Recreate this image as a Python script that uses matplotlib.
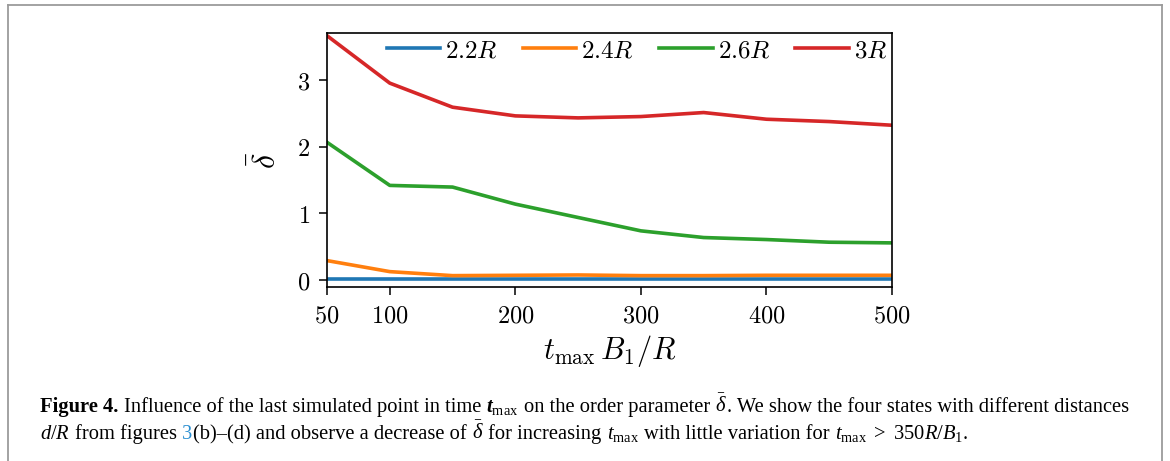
import matplotlib
matplotlib.use('Agg')
import matplotlib.pyplot as plt
from matplotlib.lines import Line2D
from matplotlib.ticker import FixedLocator, FuncFormatter

# ---------------- data ----------------
t_max = [50, 100, 150, 200, 250, 300, 350, 400, 450, 500]
delta_2_2R = [0.015, 0.015, 0.015, 0.015, 0.015, 0.015, 0.015, 0.015, 0.015, 0.015]
delta_2_4R = [0.295, 0.13, 0.07, 0.075, 0.08, 0.07, 0.07, 0.075, 0.075, 0.075]
delta_2_6R = [2.065, 1.42, 1.395, 1.14, 0.94, 0.74, 0.64, 0.61, 0.57, 0.56]
delta_3R = [3.66, 2.95, 2.59, 2.46, 2.43, 2.45, 2.51, 2.41, 2.375, 2.32]
series_labels = ['$2.2R$', '$2.4R$', '$2.6R$', '$3R$']
series_colors = ['#1f77b4', '#ff7f0e', '#2ca02c', '#d62728']
x_ticks = [50, 100, 200, 300, 400, 500]
y_ticks = [0, 1, 2, 3]

plt.rcParams['mathtext.fontset'] = 'cm'
plt.rcParams['mathtext.rm'] = 'Liberation Serif'
plt.rcParams['mathtext.it'] = 'Liberation Serif:italic'
plt.rcParams['mathtext.bf'] = 'Liberation Serif:bold:italic'
plt.rcParams['axes.unicode_minus'] = False

W, H = 1170, 461
fig = plt.figure(figsize=(W / 100, H / 100), dpi=100)
fig.patch.set_facecolor('white')

# axes placement in pixels
ax_l, ax_r, ax_t, ax_b = 327, 892, 33, 287
ax = fig.add_axes([ax_l / W, 1 - ax_b / H, (ax_r - ax_l) / W, (ax_b - ax_t) / H])

for y, lab, col in zip([delta_2_2R, delta_2_4R, delta_2_6R, delta_3R], series_labels, series_colors):
    ax.plot(t_max, y, color=col, lw=2.6, label=lab, solid_capstyle='projecting')

ax.set_xlim(50, 500)
ax.set_ylim(-0.1, 3.70)
ax.xaxis.set_major_locator(FixedLocator(x_ticks))
ax.yaxis.set_major_locator(FixedLocator(y_ticks))
fmt = FuncFormatter(lambda v, p: r'$%d$' % int(round(v)))
ax.xaxis.set_major_formatter(fmt)
ax.yaxis.set_major_formatter(fmt)
ax.tick_params(labelsize=17.5, length=5.5, width=1.1, direction='out', pad=6.5)
for s in ax.spines.values():
    s.set_linewidth(1.2)

ax.set_xlabel(r'$t_\mathrm{max}\,B_1/R$', fontsize=22, labelpad=4)
ax.set_ylabel(r'$\bar{\delta}$', fontsize=23, labelpad=10)

ax.legend(loc='upper right', ncol=4, frameon=False, fontsize=18,
          handlelength=2.15, handletextpad=0.2, columnspacing=0.98,
          borderaxespad=0.15, borderpad=0.05)

# ---------------- frame ----------------
gray = '#9b9b9b'
fig.add_artist(Line2D([8 / W, 8 / W], [0, 1 - 5 / H], color=gray, lw=1.3, transform=fig.transFigure))
fig.add_artist(Line2D([8 / W, 1162 / W], [1 - 5 / H, 1 - 5 / H], color=gray, lw=1.3, transform=fig.transFigure))
fig.add_artist(Line2D([1162 / W, 1162 / W], [0, 1 - 5 / H], color=gray, lw=1.3, transform=fig.transFigure))

# ---------------- caption ----------------
link_blue = '#2b8fd1'
line1 = [
    ("Figure 4.", dict(weight='bold')),
    (" Influence of the last simulated point in time ", {}),
    (r"$\mathbf{t}_{\mathrm{max}}$", {}),
    (" on the order parameter ", {}),
    (r"$\bar{\delta}$", {}),
    (". We show the four states with different distances", {}),
]
line2 = [
    (r"$d/R$", {}),
    (" from figures ", {}),
    ("3", dict(color=link_blue)),
    ("(b)\u2013(d) and observe a decrease of ", {}),
    (r"$\bar{\delta}$", {}),
    (" for increasing ", {}),
    (r"$t_{\mathrm{max}}$", {}),
    (" with little variation for ", {}),
    (r"$t_{\mathrm{max}}\ >\ 350R/B_1$", {}),
    (".", {}),
]

fig.canvas.draw()
renderer = fig.canvas.get_renderer()


def measure(s, size, **kw):
    t = fig.text(0, 0, s, fontsize=size, family='Liberation Serif', math_fontfamily='custom', **kw)
    w = t.get_window_extent(renderer).width
    t.remove()
    return w


def draw_line(runs, x0, ybase, size):
    sw = measure('x x', size) - measure('xx', size)
    x = x0
    arts = []
    for s, kw in runs:
        L = len(s) - len(s.lstrip(' '))
        T = len(s) - len(s.rstrip(' '))
        core = s.strip(' ')
        x += L * sw
        t = fig.text(x / W, 1 - ybase / H, core, fontsize=size, family='Liberation Serif',
                     math_fontfamily='custom', va='baseline', ha='left', **kw)
        bb = t.get_window_extent(renderer)
        x += bb.width + T * sw
        arts.append(t)
    return x, arts


size = 13.0
x_end, arts = draw_line(line1, 40, 412, size)
for a in arts:
    a.remove()
size = size * (1128 - 40) / (x_end - 40)
draw_line(line1, 40, 412, size)
draw_line(line2, 40, 439, size)

fig.savefig('out.png', dpi=100, facecolor='white')
